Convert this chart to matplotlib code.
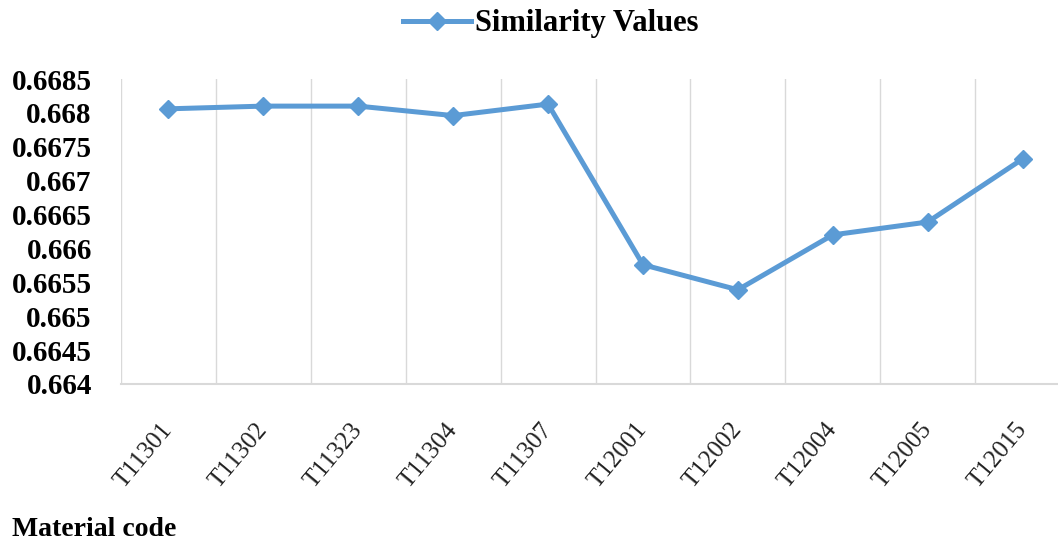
import matplotlib.pyplot as plt
from matplotlib.lines import Line2D

# data
material_codes = ["T11301", "T11302", "T11323", "T11304", "T11307",
                  "T12001", "T12002", "T12004", "T12005", "T12015"]
similarity_values = [0.66806, 0.66810, 0.66810, 0.66796, 0.66813,
                     0.66576, 0.66539, 0.66620, 0.66639, 0.66732]
y_ticks = [0.664, 0.6645, 0.665, 0.6655, 0.666, 0.6665, 0.667, 0.6675, 0.668, 0.6685]
y_tick_labels = ["0.664", "0.6645", "0.665", "0.6655", "0.666",
                 "0.6665", "0.667", "0.6675", "0.668", "0.6685"]

plt.rcParams['font.family'] = ['Liberation Serif', 'DejaVu Serif']

line_color = "#5B9BD5"
grid_color = "#D9D9D9"

fig = plt.figure(figsize=(10.58, 5.47), dpi=100)
ax = fig.add_axes([121 / 1058, 1 - 384 / 547, (1070 - 121) / 1058, (384 - 79) / 547])

x = list(range(len(material_codes)))
ax.plot(x, similarity_values, color=line_color, linewidth=3.6,
        marker="D", markersize=9, markerfacecolor=line_color,
        markeredgecolor=line_color, label="Similarity Values")

ax.set_xlim(-0.5, len(material_codes) - 0.5)
ax.set_ylim(0.664, 0.6685)

# gridlines sit between categories, like the spreadsheet original
ax.set_xticks([i + 0.5 for i in range(-1, len(material_codes))], minor=True)
ax.grid(True, which="minor", axis="x", color=grid_color, linewidth=1)
ax.set_xticks(x)
ax.set_xticklabels(material_codes, rotation=50, ha="right", va="center",
                   rotation_mode="anchor", fontsize=18, color="#222222")
ax.set_yticks(y_ticks)
ax.set_yticklabels(y_tick_labels, fontsize=21, fontweight="bold")
ax.tick_params(axis="both", which="both", length=0)
ax.tick_params(axis="y", pad=21)
ax.tick_params(axis="x", pad=30)

for side in ["top", "right", "left"]:
    ax.spines[side].set_visible(False)
ax.spines["bottom"].set_color(grid_color)
ax.spines["bottom"].set_linewidth(1.5)

fig.text(12 / 1058, 1 - 530 / 547, "Material code", fontsize=20,
         fontweight="bold", va="center", ha="left")

handle = Line2D([], [], color=line_color, linewidth=3.6, marker="D",
                markersize=9)
fig.legend([handle], ["Similarity Values"], loc="center",
           bbox_to_anchor=(551 / 1058, 1 - 24 / 547), frameon=False,
           prop={"size": 22, "weight": "bold"}, handlelength=2.2,
           handletextpad=0.15)

fig.savefig("out.png", dpi=100, facecolor="white")
